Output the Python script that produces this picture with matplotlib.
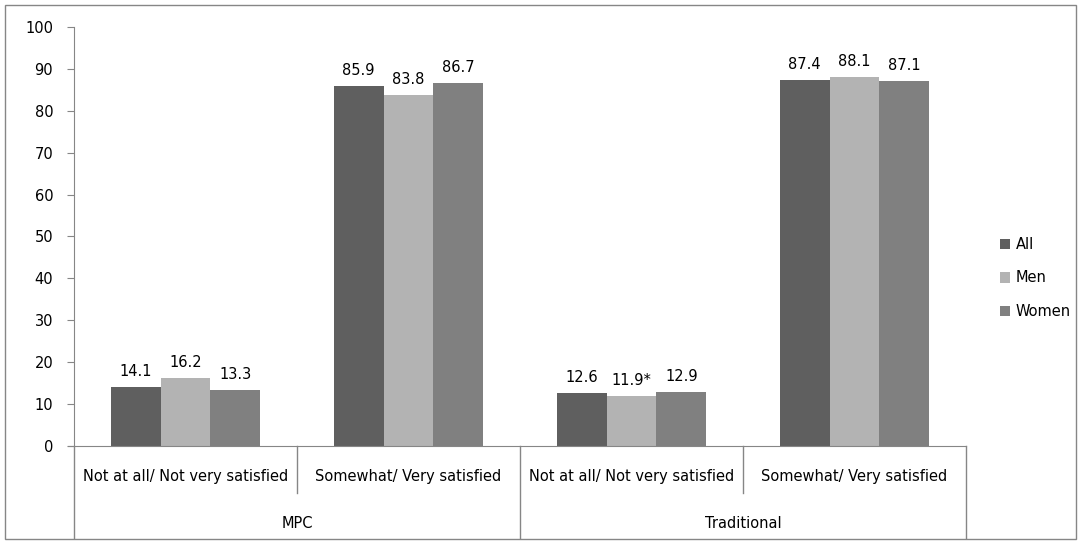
import matplotlib
matplotlib.use("Agg")
import matplotlib.pyplot as plt
import numpy as np
from matplotlib.patches import Rectangle
import matplotlib.transforms as mtransforms

categories = ["Not at all/ Not very satisfied", "Somewhat/ Very satisfied",
              "Not at all/ Not very satisfied", "Somewhat/ Very satisfied"]
groups = ["MPC", "Traditional"]
series = ["All", "Men", "Women"]
all_vals = [14.1, 85.9, 12.6, 87.4]
men_vals = [16.2, 83.8, 11.9, 88.1]
women_vals = [13.3, 86.7, 12.9, 87.1]
men_labels = ["16.2", "83.8", "11.9*", "88.1"]
all_labels = ["14.1", "85.9", "12.6", "87.4"]
women_labels = ["13.3", "86.7", "12.9", "87.1"]
yticks = [0, 10, 20, 30, 40, 50, 60, 70, 80, 90, 100]

colors = ["#5f5f5f", "#b3b3b3", "#808080"]
axis_col = "#868686"
FS = 10.5

plt.rcParams['font.family'] = ['DejaVu Sans']
W, H = 1081, 544
fig = plt.figure(figsize=(W/100, H/100), dpi=100)
x0, x1 = 74, 966
ytop, ybot = 27, 446
ax = fig.add_axes([x0/W, 1-ybot/H, (x1-x0)/W, (ybot-ytop)/H])

x = np.arange(len(categories))
bw = 0.224
vals = [all_vals, men_vals, women_vals]
labs = [all_labels, men_labels, women_labels]
for i, (v, l) in enumerate(zip(vals, labs)):
    bars = ax.bar(x + (i-1)*bw, v, width=bw, color=colors[i], label=series[i])
    for b, t in zip(bars, l):
        ax.annotate(t, (b.get_x()+b.get_width()/2, b.get_height()),
                    xytext=(0, 8), textcoords="offset points",
                    ha="center", va="baseline", fontsize=FS, color="black")

ax.set_xlim(-0.5, len(categories)-0.5)
ax.set_ylim(0, 100)
ax.set_yticks(yticks)
ax.tick_params(axis='y', length=5, color=axis_col, labelsize=FS, pad=10)
ax.set_xticks([])
for s in ["top", "right"]:
    ax.spines[s].set_visible(False)
for s in ["left", "bottom"]:
    ax.spines[s].set_color(axis_col)
ax.spines['bottom'].set_bounds(-0.5 - 6/223, len(categories)-0.5)

trans = mtransforms.blended_transform_factory(ax.transData, fig.transFigure)
def fy(py):
    return 1 - py/H
# dividers
for k in range(len(categories)+1):
    xd = k - 0.5
    end = 538 if k % 2 == 0 else 493
    ax.plot([xd, xd], [fy(ybot), fy(end)], transform=trans, color=axis_col,
            lw=1, clip_on=False)
for k, c in enumerate(categories):
    ax.text(k, fy(477), c, transform=trans, ha="center", va="center", fontsize=FS)
for g, name in enumerate(groups):
    ax.text(2*g + 0.5, fy(524), name, transform=trans, ha="center", va="center",
            fontsize=FS)

# legend
leg = fig.legend(loc="center left", bbox_to_anchor=(994/W, fy(278)), frameon=False,
                 fontsize=FS, handlelength=0.7, handleheight=0.7,
                 handletextpad=0.4, labelspacing=1.25, borderaxespad=0)

# outer border
fig.patches.append(Rectangle((5/W, 5/H), (W-10)/W, (H-10)/H, transform=fig.transFigure,
                             fill=False, edgecolor=axis_col, lw=1))

fig.savefig("out.png", dpi=100)
